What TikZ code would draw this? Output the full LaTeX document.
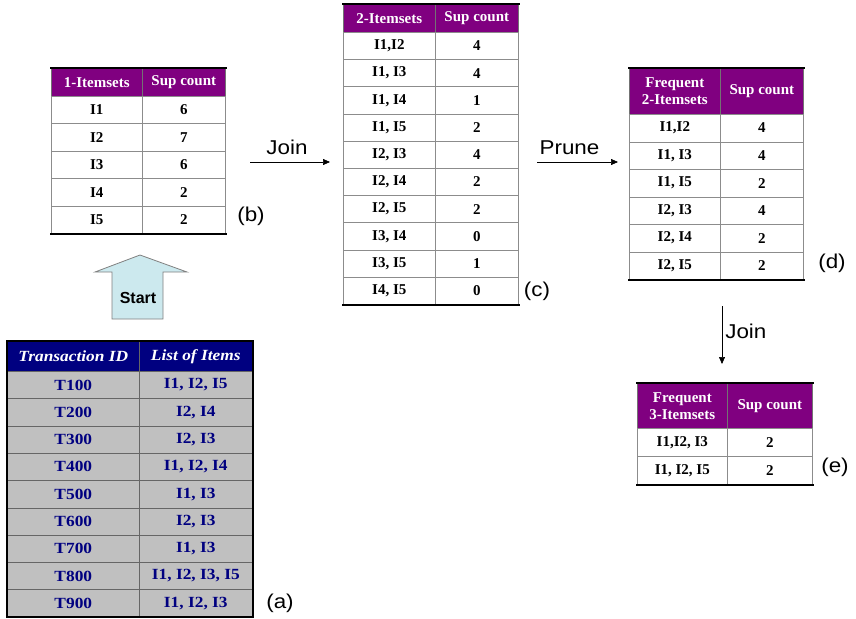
\documentclass[tikz,border=0pt]{standalone}
\usepackage{fontspec}
\setmainfont{Liberation Serif}
\newfontfamily\widefam{Liberation Serif}[FakeStretch=1.12]
\newfontfamily\sansfam{Liberation Sans}[FakeStretch=1.12]
\newfontfamily\startfam{Liberation Sans}
\usetikzlibrary{arrows.meta}
\definecolor{hdpurple}{HTML}{800080}
\definecolor{hdnavy}{HTML}{000080}
\definecolor{rowgray}{HTML}{C0C0C0}
\definecolor{startblue}{HTML}{CCE9EE}
\tikzset{
  cell/.style={draw=black!45, line width=0.6pt, inner sep=1pt, anchor=north west, align=center,
    font=\fontsize{15}{17}\selectfont\bfseries, minimum height=27.4pt},
  hcell/.style={cell, fill=hdpurple, text=white, draw=black!55},
  tcell/.style={cell, fill=rowgray, text=hdnavy, draw=black!60, font=\widefam\fontsize{15.5}{18}\selectfont\bfseries},
  thcell/.style={tcell, fill=hdnavy, text=white, font=\widefam\fontsize{15.5}{18}\selectfont\bfseries\itshape},
  rim/.style={line width=2pt, line cap=rect},
  flow/.style={-{Triangle[length=7pt,width=6pt]}, line width=0.6pt},
  tag/.style={font=\sansfam\fontsize{20}{22}\selectfont, inner sep=0pt}
}
\begin{document}
\begin{tikzpicture}[x=1pt, y=-1pt]
\useasboundingbox (0,0) rectangle (856,618);

% (b) 1-itemsets
\node[hcell, minimum width=91pt, minimum height=28pt] (b-0-1) at (51,68) {1-Itemsets};
\node[hcell, minimum width=83pt, minimum height=28pt] (b-0-2) at (142,68) {Sup count};
\foreach \iset/\cnt [count=\r] in {I1/6, I2/7, I3/6, I4/2, I5/2} {
  \node[cell, minimum width=91pt] (b-\r-1) at (51,{96+27.4*(\r-1)}) {\iset};
  \node[cell, minimum width=83pt] (b-\r-2) at (142,{96+27.4*(\r-1)}) {\cnt};
}
\draw[rim] (b-0-1.north west) -- (b-0-2.north east);
\draw[rim] (b-5-1.south west) -- (b-5-2.south east);

% (c) candidate 2-itemsets
\node[hcell, minimum width=92pt, minimum height=28pt] (c-0-1) at (343,4) {2-Itemsets};
\node[hcell, minimum width=83pt, minimum height=28pt] (c-0-2) at (435,4) {Sup count};
\foreach \iset/\cnt [count=\r] in {{I1,I2}/4, {I1, I3}/4, {I1, I4}/1, {I1, I5}/2, {I2, I3}/4,
    {I2, I4}/2, {I2, I5}/2, {I3, I4}/0, {I3, I5}/1, {I4, I5}/0} {
  \node[cell, minimum width=92pt, minimum height=27.2pt] (c-\r-1) at (343,{32+27.2*(\r-1)}) {\iset};
  \node[cell, minimum width=83pt, minimum height=27.2pt] (c-\r-2) at (435,{32+27.2*(\r-1)}) {\cnt};
}
\draw[rim] (c-0-1.north west) -- (c-0-2.north east);
\draw[rim] (c-10-1.south west) -- (c-10-2.south east);

% (d) frequent 2-itemsets
\node[hcell, minimum width=91pt, minimum height=46pt] (d-0-1) at (629,68) {Frequent\\2-Itemsets};
\node[hcell, minimum width=83pt, minimum height=46pt] (d-0-2) at (720,68) {Sup count};
\foreach \iset/\cnt [count=\r] in {{I1,I2}/4, {I1, I3}/4, {I1, I5}/2, {I2, I3}/4, {I2, I4}/2, {I2, I5}/2} {
  \node[cell, minimum width=91pt, minimum height=27.5pt] (d-\r-1) at (629,{114+27.5*(\r-1)}) {\iset};
  \node[cell, minimum width=83pt, minimum height=27.5pt] (d-\r-2) at (720,{114+27.5*(\r-1)}) {\cnt};
}
\draw[rim] (d-0-1.north west) -- (d-0-2.north east);
\draw[rim] (d-6-1.south west) -- (d-6-2.south east);

% (e) frequent 3-itemsets
\node[hcell, minimum width=90pt, minimum height=45pt] (e-0-1) at (637,383) {Frequent\\3-Itemsets};
\node[hcell, minimum width=85pt, minimum height=45pt] (e-0-2) at (727,383) {Sup count};
\foreach \iset/\cnt [count=\r] in {{I1,I2, I3}/2, {I1, I2, I5}/2} {
  \node[cell, minimum width=90pt, minimum height=28pt] (e-\r-1) at (637,{428+28*(\r-1)}) {\iset};
  \node[cell, minimum width=85pt, minimum height=28pt] (e-\r-2) at (727,{428+28*(\r-1)}) {\cnt};
}
\draw[rim] (e-0-1.north west) -- (e-0-2.north east);
\draw[rim] (e-2-1.south west) -- (e-2-2.south east);

% (a) transactions
\node[thcell, minimum width=132pt, minimum height=30pt] (a-0-1) at (7,341) {Transaction ID};
\node[thcell, minimum width=113pt, minimum height=30pt] (a-0-2) at (139,341) {List of Items};
\foreach \tid/\items [count=\r] in {T100/{I1, I2, I5}, T200/{I2, I4}, T300/{I2, I3}, T400/{I1, I2, I4},
    T500/{I1, I3}, T600/{I2, I3}, T700/{I1, I3}, T800/{I1, I2, I3, I5}, T900/{I1, I2, I3}} {
  \node[tcell, minimum width=132pt, minimum height=27.3pt] (a-\r-1) at (7,{371+27.3*(\r-1)}) {\tid};
  \node[tcell, minimum width=113pt, minimum height=27.3pt] (a-\r-2) at (139,{371+27.3*(\r-1)}) {\items};
}
\draw[rim] (a-0-1.north west) rectangle (a-9-2.south east);

% start arrow
\draw[draw=black!50, fill=startblue, line width=0.8pt] (112,319) -- (112,272) -- (95,272) -- (140,255)
  -- (187,272) -- (163,272) -- (163,319) -- cycle;
\node[font=\startfam\bfseries\fontsize{16}{18}\selectfont] (start) at (138,298) {Start};

% steps
\coordinate (join1-s) at (250,162);
\coordinate (join1-e) at (330,162);
\coordinate (prune-s) at (537,162);
\coordinate (prune-e) at (618,162);
\coordinate (join2-s) at (722,306);
\coordinate (join2-e) at (722,364);
\draw[flow] (join1-s) -- node[tag, above=7pt, xshift=-3pt] (join1) {Join} (join1-e);
\draw[flow] (prune-s) -- node[tag, above=7pt, xshift=-8pt] (prune) {Prune} (prune-e);
\draw[flow] (join2-s) -- node[tag, right=3pt, yshift=4pt] (join2) {Join} (join2-e);

% captions
\node[tag] (lab-a) at (280,603) {(a)};
\node[tag] (lab-b) at (251,216) {(b)};
\node[tag] (lab-c) at (537,291) {(c)};
\node[tag] (lab-d) at (832,263) {(d)};
\node[tag] (lab-e) at (835,467) {(e)};
\end{tikzpicture}
\end{document}
